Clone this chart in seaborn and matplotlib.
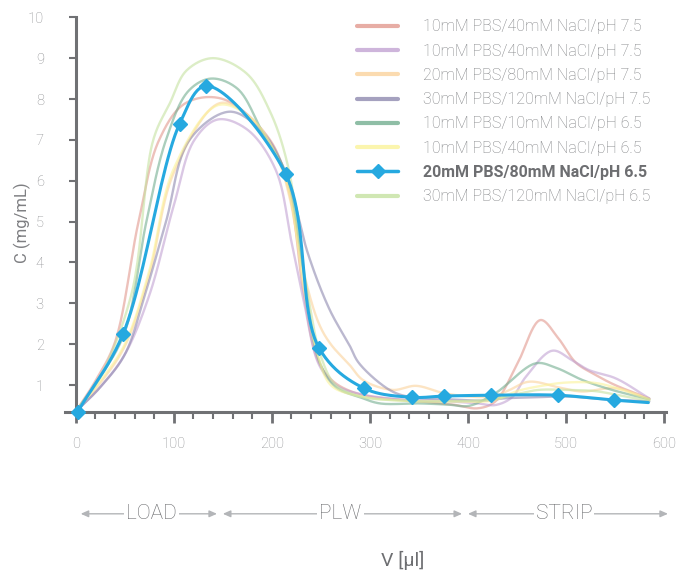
import numpy as np
import pandas as pd
import matplotlib
matplotlib.use('Agg')
import matplotlib.pyplot as plt
from matplotlib.lines import Line2D
from matplotlib.ticker import MultipleLocator
import seaborn as sns

# legend labels + colours
labels = ['10mM PBS/40mM NaCl/pH 7.5', '10mM PBS/40mM NaCl/pH 7.5',
          '20mM PBS/80mM NaCl/pH 7.5', '30mM PBS/120mM NaCl/pH 7.5',
          '10mM PBS/10mM NaCl/pH 6.5', '10mM PBS/40mM NaCl/pH 6.5',
          '20mM PBS/80mM NaCl/pH 6.5', '30mM PBS/120mM NaCl/pH 6.5']
colors = ['#e2998f', '#c2a3d3', '#fbd29c', '#8f8ab0',
          '#73ae90', '#fbf39a', '#26a9e0', '#c5e2a0']

# values: V [ul] and C [mg/mL]
red_x = [0, 20, 40, 64, 85, 112, 150, 198, 218, 232, 247, 262, 280, 300, 350, 385, 410, 428, 450, 474, 492, 510, 530, 550, 585]
red_y = [0.35, 1.1, 2.05, 5.0, 7.0, 7.9, 8.0, 7.0, 5.7, 3.3, 1.6, 1.1, 0.85, 0.72, 0.6, 0.52, 0.43, 0.6, 1.5, 2.59, 2.15, 1.55, 1.25, 1.0, 0.67]

lav_x = [0, 25, 50, 75, 100, 121, 145, 175, 204, 220, 233, 248, 265, 290, 330, 380, 410, 428, 445, 459, 486, 506, 523, 551, 585]
lav_y = [0.35, 0.95, 1.75, 3.2, 5.4, 7.0, 7.5, 7.25, 6.26, 4.5, 3.0, 1.5, 1.0, 0.78, 0.65, 0.6, 0.55, 0.51, 0.7, 1.2, 1.84, 1.61, 1.37, 1.16, 0.67]

peach_x = [0, 25, 50, 75, 100, 147, 180, 205, 218, 232, 248, 260, 279, 293, 323, 347, 374, 400, 425, 440, 462, 493, 516, 551, 585]
peach_y = [0.35, 1.05, 1.95, 3.7, 6.2, 7.9, 7.5, 6.6, 5.6, 3.8, 2.5, 2.0, 1.5, 1.12, 0.88, 0.98, 0.81, 0.72, 0.72, 0.85, 1.08, 0.94, 0.84, 0.92, 0.65]

purple_x = [0, 25, 50, 71, 92, 116, 157, 190, 214, 237, 259, 279, 289, 320, 340, 380, 420, 435, 470, 500, 540, 585]
purple_y = [0.35, 0.95, 1.75, 3.25, 5.0, 7.0, 7.69, 7.2, 6.2, 4.2, 2.84, 1.98, 1.53, 0.88, 0.71, 0.65, 0.62, 0.67, 0.7, 0.72, 0.65, 0.6]

green_x = [0, 25, 50, 72, 92, 115, 138, 165, 191, 214, 232, 248, 265, 290, 310, 350, 380, 401, 428, 469, 490, 517, 547, 585]
green_y = [0.35, 1.2, 2.3, 5.0, 7.0, 8.2, 8.5, 8.25, 7.16, 6.19, 3.8, 1.6, 0.95, 0.7, 0.55, 0.55, 0.52, 0.49, 0.8, 1.53, 1.42, 1.12, 0.88, 0.65]

yellow_x = [0, 25, 50, 75, 100, 145, 178, 205, 218, 232, 245, 260, 285, 330, 380, 425, 450, 475, 500, 530, 555, 585]
yellow_y = [0.35, 1.1, 2.0, 3.8, 6.3, 7.85, 7.55, 6.6, 5.7, 3.5, 1.9, 1.0, 0.75, 0.62, 0.6, 0.62, 0.85, 0.98, 1.06, 1.05, 0.9, 0.65]

blue_x = [2, 48, 106, 133, 214, 248, 294, 343, 376, 424, 492, 549, 584]
blue_y = [0.35, 2.24, 7.40, 8.32, 6.17, 1.91, 0.92, 0.70, 0.73, 0.75, 0.75, 0.63, 0.57]

lgreen_x = [0, 25, 57, 79, 96, 113, 140, 174, 198, 216, 236, 250, 265, 290, 330, 380, 425, 450, 472, 500, 530, 560, 585]
lgreen_y = [0.35, 1.2, 3.25, 7.0, 7.9, 8.7, 9.0, 8.63, 7.7, 6.4, 3.3, 1.7, 1.0, 0.72, 0.62, 0.6, 0.65, 0.78, 0.88, 0.88, 0.85, 0.72, 0.62]

# phase bands under the x axis
phases = ['LOAD', 'PLW', 'STRIP']
phase_start = [5, 150, 400]
phase_end = [144, 394, 604]
phase_mid = [77, 270, 498]


def smooth(xs, ys, n=24, yscale=42.3):
    # centripetal catmull-rom through the read points (y scaled to ~pixel units)
    P = np.column_stack([np.asarray(xs, float), np.asarray(ys, float) * yscale])
    P = np.vstack([2 * P[0] - P[1], P, 2 * P[-1] - P[-2]])
    out = []
    for i in range(len(P) - 3):
        p0, p1, p2, p3 = P[i:i + 4]
        t0 = 0.0
        t1 = t0 + np.linalg.norm(p1 - p0) ** 0.5
        t2 = t1 + np.linalg.norm(p2 - p1) ** 0.5
        t3 = t2 + np.linalg.norm(p3 - p2) ** 0.5
        t = np.linspace(t1, t2, n, endpoint=False)[:, None]
        a1 = (t1 - t) / (t1 - t0) * p0 + (t - t0) / (t1 - t0) * p1
        a2 = (t2 - t) / (t2 - t1) * p1 + (t - t1) / (t2 - t1) * p2
        a3 = (t3 - t) / (t3 - t2) * p2 + (t - t2) / (t3 - t2) * p3
        b1 = (t2 - t) / (t2 - t0) * a1 + (t - t0) / (t2 - t0) * a2
        b2 = (t3 - t) / (t3 - t1) * a2 + (t - t1) / (t3 - t1) * a3
        out.append((t2 - t) / (t2 - t1) * b1 + (t - t1) / (t2 - t1) * b2)
    out.append(P[-2][None])
    out = np.vstack(out)
    return out[:, 0], out[:, 1] / yscale


series = [(red_x, red_y), (lav_x, lav_y), (peach_x, peach_y), (purple_x, purple_y),
          (green_x, green_y), (yellow_x, yellow_y), (blue_x, blue_y), (lgreen_x, lgreen_y)]

sns.set_style('white')
plt.rcParams['font.family'] = ['Roboto', 'DejaVu Sans']
plt.rcParams['font.weight'] = 'light'

axis_col = '#707174'
tick_col = '#8e8f92'

fig = plt.figure(figsize=(6.76, 5.71), dpi=100)
ax = fig.add_axes([0.0962, 0.2785, 0.889, 0.6912])

for i, (xs, ys) in enumerate(series):
    if i == 6:
        continue
    sx, sy = smooth(xs, ys)
    sns.lineplot(x=sx, y=sy, ax=ax, color=colors[i], lw=1.7, alpha=0.6,
                 sort=False, estimator=None)

# highlighted series on top
sx, sy = smooth(blue_x, blue_y)
sns.lineplot(x=sx, y=sy, ax=ax, color=colors[6], lw=2.2, sort=False, estimator=None, zorder=5)
ax.plot(blue_x[:-1], blue_y[:-1], ls='none', marker='D', ms=7, color=colors[6], zorder=6, clip_on=False)

ax.set_xlim(-11, 602)
ax.set_ylim(0.34, 10)
ax.xaxis.set_major_locator(MultipleLocator(100))
ax.xaxis.set_minor_locator(MultipleLocator(20))
ax.yaxis.set_major_locator(MultipleLocator(1))

for s in ['top', 'right']:
    ax.spines[s].set_visible(False)
ax.spines['left'].set_position(('data', 0))
for s in ['left', 'bottom']:
    ax.spines[s].set_color(axis_col)
    ax.spines[s].set_linewidth(2.2)

ax.tick_params(axis='x', which='major', direction='out', length=8, width=2, color=axis_col,
               labelcolor=tick_col, labelsize=10.5, pad=10, bottom=True)
ax.tick_params(axis='x', which='minor', direction='out', length=5, width=1.5, color=axis_col, bottom=True)
ax.tick_params(axis='y', which='major', direction='out', length=5, width=1.5, color=axis_col,
               labelcolor=tick_col, labelsize=10.5, pad=18, left=True)

ax.set_ylabel('C (mg/mL)', fontsize=12, color='#7e7f82')
ax.yaxis.set_label_coords(-0.0707, 0.479)
ax.yaxis.label.set_va('center')
ax.set_xlabel('V [µl]', fontsize=14, color='#6e6f72')
ax.xaxis.set_label_coords(0.562, -0.377)
ax.xaxis.label.set_va('center')

trans = ax.get_xaxis_transform()
for name, a, b, m in zip(phases, phase_start, phase_end, phase_mid):
    ax.annotate('', xy=(b, -0.258), xytext=(a, -0.258), xycoords=trans, textcoords=trans,
                annotation_clip=False,
                arrowprops=dict(arrowstyle='<|-|>,head_length=0.45,head_width=0.2',
                                color='#b3b5b8', lw=1, shrinkA=0, shrinkB=0))
    ax.text(m, -0.258, name, transform=trans, ha='center', va='center', fontsize=15,
            color='#68696c', clip_on=False, zorder=10,
            bbox=dict(fc='white', ec='none', pad=1.5))

handles = []
for i, c in enumerate(colors):
    if i == 6:
        handles.append(Line2D([], [], color=c, lw=2.5, marker='D', ms=7))
    else:
        handles.append(Line2D([], [], color=c, lw=3, alpha=0.8))
leg = fig.legend(handles, labels, loc='upper left', bbox_to_anchor=(0.528, 0.966),
                 frameon=False, fontsize=11.5, handlelength=2.58, handletextpad=1.57,
                 labelspacing=0.58, borderpad=0, borderaxespad=0)
for i, t in enumerate(leg.get_texts()):
    t.set_color('#7f8083')
    if i == 6:
        t.set_fontweight('bold')
        t.set_color('#6d6e71')

fig.savefig('out.png', dpi=100)
